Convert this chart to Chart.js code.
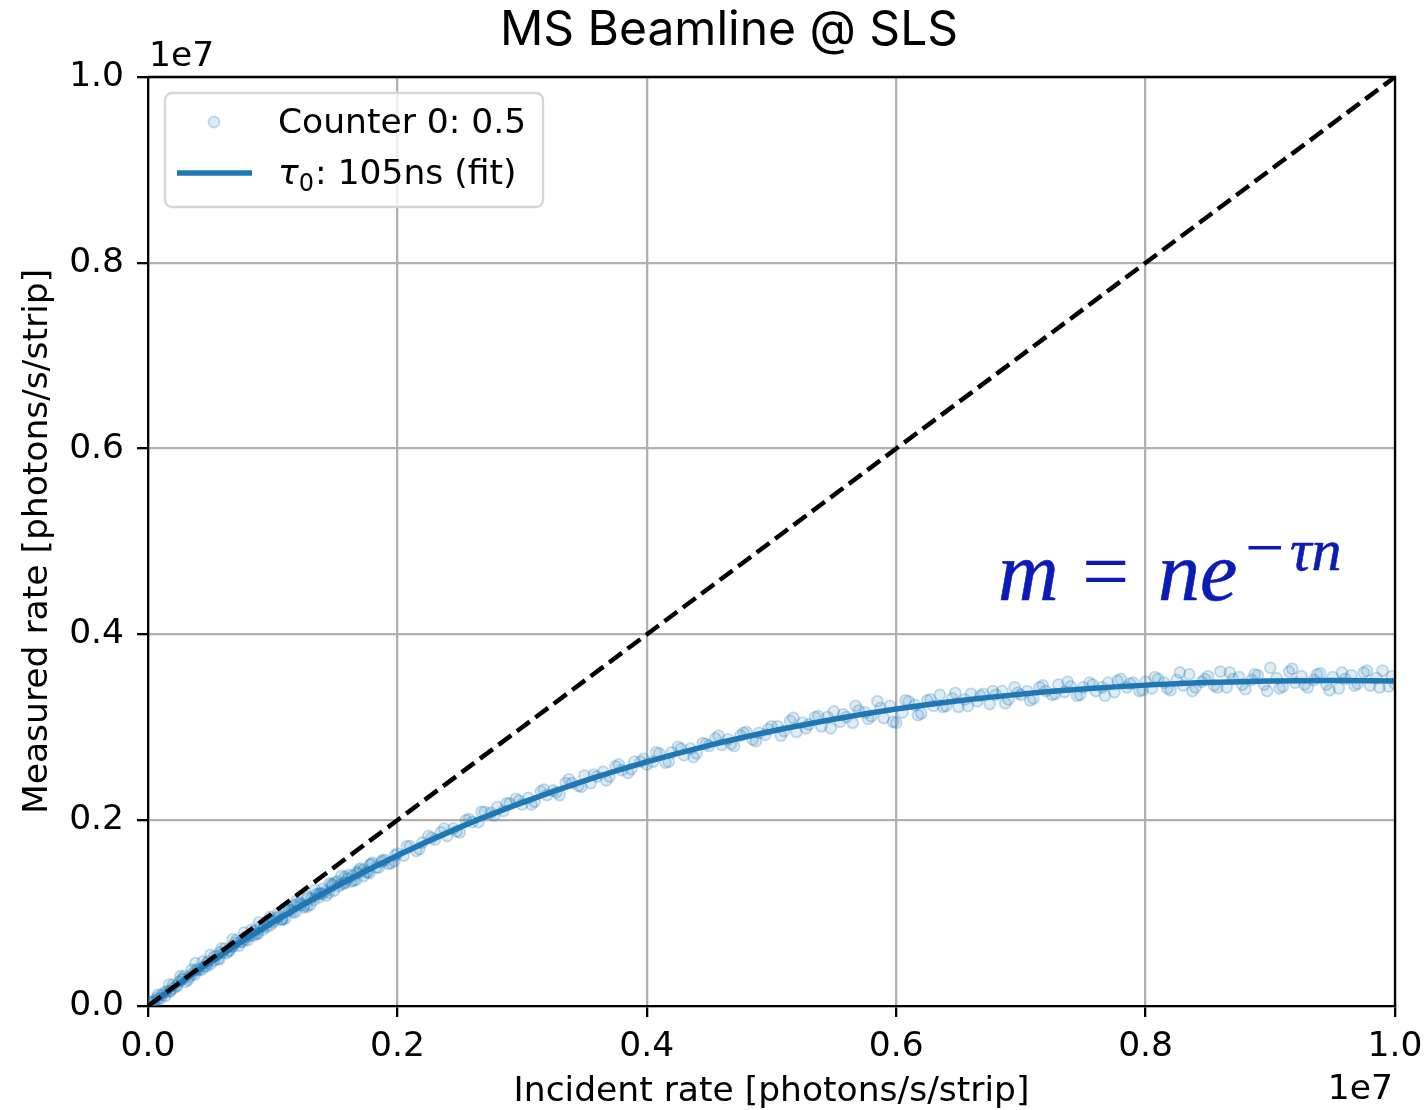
<!DOCTYPE html>
<html>
<head>
<meta charset="utf-8">
<script src="https://cdn.jsdelivr.net/npm/chart.js@4.4.1/dist/chart.umd.min.js"></script>
<style>
  html, body { margin: 0; padding: 0; background: #fff; }
  #rateChart { display: block; }
</style>
</head>
<body>
<canvas id="rateChart" width="1427" height="1110"></canvas>
<script>
// counter 0 rates, in units of 1e6 photons/s/strip (four scans)
var incidentRate = [
  0.05, 0.10, 0.15, 0.20, 0.25, 0.30, 0.35, 0.40, 0.45, 0.50, 0.55, 0.60, 0.65, 0.70, 0.75, 0.80, 0.85, 0.90, 0.95, 1.00,
  1.05, 1.10, 1.15, 1.20, 1.25, 1.30, 1.35, 1.40, 1.45, 1.50, 1.55, 1.60, 1.65, 1.70, 1.75, 1.80, 1.85, 1.90, 1.95, 2.00,
  2.05, 2.10, 2.15, 2.20, 2.25, 2.30, 2.35, 2.40, 2.45, 2.50, 2.55, 2.60, 2.65, 2.70, 2.75, 2.80, 2.85, 2.90, 2.95, 3.00,
  3.05, 3.10, 3.15, 3.20, 3.25, 3.30, 3.35, 3.40, 3.45, 3.50, 3.55, 3.60, 3.65, 3.70, 3.75, 3.80, 3.85, 3.90, 3.95, 4.00,
  4.05, 4.10, 4.15, 4.20, 4.25, 4.30, 4.35, 4.40, 4.45, 4.50, 4.55, 4.60, 4.65, 4.70, 4.75, 4.80, 4.85, 4.90, 4.95, 5.00,
  5.05, 5.10, 5.15, 5.20, 5.25, 5.30, 5.35, 5.40, 5.45, 5.50, 5.55, 5.60, 5.65, 5.70, 5.75, 5.80, 5.85, 5.90, 5.95, 6.00,
  6.05, 6.10, 6.15, 6.20, 6.25, 6.30, 6.35, 6.40, 6.45, 6.50, 6.55, 6.60, 6.65, 6.70, 6.75, 6.80, 6.85, 6.90, 6.95, 7.00,
  7.05, 7.10, 7.15, 7.20, 7.25, 7.30, 7.35, 7.40, 7.45, 7.50, 7.55, 7.60, 7.65, 7.70, 7.75, 7.80, 7.85, 7.90, 7.95, 8.00,
  8.05, 8.10, 8.15, 8.20, 8.25, 8.30, 8.35, 8.40, 8.45, 8.50, 8.55, 8.60, 8.65, 8.70, 8.75, 8.80, 8.85, 8.90, 8.95, 9.00,
  9.05, 9.10, 9.15, 9.20, 9.25, 9.30, 9.35, 9.40, 9.45, 9.50, 9.55, 9.60, 9.65, 9.70, 9.75, 9.80, 9.85, 9.90, 9.95, 10.00,

  0.075, 0.175, 0.275, 0.375, 0.475, 0.575, 0.675, 0.775, 0.875, 0.975,
  1.075, 1.175, 1.275, 1.375, 1.475, 1.575, 1.675, 1.775, 1.875, 1.975,
  2.075, 2.175, 2.275, 2.375, 2.475, 2.575, 2.675, 2.775, 2.875, 2.975,
  3.075, 3.175, 3.275, 3.375, 3.475, 3.575, 3.675, 3.775, 3.875, 3.975,
  4.075, 4.175, 4.275, 4.375, 4.475, 4.575, 4.675, 4.775, 4.875, 4.975,
  5.075, 5.175, 5.275, 5.375, 5.475, 5.575, 5.675, 5.775, 5.875, 5.975,
  6.075, 6.175, 6.275, 6.375, 6.475, 6.575, 6.675, 6.775, 6.875, 6.975,
  7.075, 7.175, 7.275, 7.375, 7.475, 7.575, 7.675, 7.775, 7.875, 7.975,
  8.075, 8.175, 8.275, 8.375, 8.475, 8.575, 8.675, 8.775, 8.875, 8.975,
  9.075, 9.175, 9.275, 9.375, 9.475, 9.575, 9.675, 9.775, 9.875, 9.975,

  0.03, 0.08, 0.13, 0.18, 0.23, 0.28, 0.33, 0.38, 0.43, 0.48, 0.53, 0.58, 0.63, 0.68, 0.73, 0.78, 0.83, 0.88, 0.93, 0.98,
  1.03, 1.08, 1.13, 1.18, 1.23, 1.28, 1.33, 1.38, 1.43, 1.48, 1.53, 1.58, 1.63, 1.68, 1.73, 1.78, 1.83, 1.88, 1.93, 1.98,

  0.02, 0.05, 0.08, 0.11, 0.14, 0.17, 0.20, 0.23, 0.26, 0.29, 0.32, 0.35, 0.38, 0.41, 0.44, 0.47, 0.50, 0.53, 0.56, 0.59,
  0.62, 0.65, 0.68, 0.71, 0.74, 0.77, 0.80, 0.83, 0.86, 0.89, 0.92, 0.95, 0.98, 1.01, 1.04, 1.07, 1.10, 1.13, 1.16, 1.19,
  1.22, 1.25, 1.28, 1.31, 1.34, 1.37, 1.40, 1.43, 1.46, 1.49, 1.52, 1.55, 1.58, 1.61, 1.64, 1.67, 1.70, 1.73, 1.76, 1.79
];
var measuredRate = [
  0.06, 0.08, 0.16, 0.19, 0.26, 0.26, 0.34, 0.40, 0.42, 0.45, 0.54, 0.57, 0.59, 0.68, 0.69, 0.75, 0.76, 0.85, 0.85, 0.90,
  0.96, 0.94, 1.03, 1.10, 1.08, 1.09, 1.20, 1.21, 1.22, 1.33, 1.31, 1.37, 1.35, 1.46, 1.44, 1.54, 1.49, 1.57, 1.54, 1.64,
  1.62, 1.72, 1.67, 1.76, 1.83, 1.79, 1.87, 1.83, 1.91, 1.87, 2.00, 1.98, 1.98, 2.09, 2.08, 2.14, 2.10, 2.18, 2.23, 2.17,
  2.24, 2.20, 2.31, 2.27, 2.32, 2.27, 2.40, 2.40, 2.37, 2.48, 2.40, 2.47, 2.52, 2.47, 2.58, 2.54, 2.51, 2.63, 2.63, 2.60,
  2.63, 2.72, 2.62, 2.73, 2.79, 2.70, 2.77, 2.72, 2.83, 2.80, 2.88, 2.81, 2.87, 2.80, 2.91, 2.95, 2.87, 2.94, 2.92, 3.01,
  3.01, 2.96, 3.07, 2.95, 3.05, 3.03, 3.11, 3.01, 3.11, 3.17, 3.06, 3.11, 3.05, 3.18, 3.16, 3.12, 3.28, 3.10, 3.23, 3.05,
  3.16, 3.28, 3.24, 3.15, 3.29, 3.23, 3.35, 3.23, 3.31, 3.22, 3.30, 3.36, 3.28, 3.36, 3.25, 3.35, 3.39, 3.30, 3.43, 3.35,
  3.39, 3.31, 3.43, 3.39, 3.35, 3.46, 3.38, 3.44, 3.34, 3.43, 3.48, 3.39, 3.43, 3.48, 3.38, 3.52, 3.43, 3.48, 3.39, 3.49,
  3.42, 3.52, 3.48, 3.40, 3.51, 3.45, 3.57, 3.43, 3.49, 3.55, 3.45, 3.60, 3.43, 3.52, 3.54, 3.41, 3.51, 3.56, 3.46, 3.64,
  3.53, 3.44, 3.60, 3.48, 3.55, 3.43, 3.51, 3.58, 3.46, 3.54, 3.42, 3.52, 3.56, 3.47, 3.59, 3.45, 3.53, 3.61, 3.44, 3.47,

  0.09, 0.16, 0.29, 0.34, 0.46, 0.51, 0.64, 0.71, 0.78, 0.91,
  0.93, 1.08, 1.07, 1.21, 1.31, 1.32, 1.44, 1.43, 1.55, 1.56,
  1.72, 1.69, 1.81, 1.91, 1.88, 2.01, 2.09, 2.05, 2.18, 2.21,
  2.17, 2.33, 2.30, 2.44, 2.36, 2.49, 2.43, 2.60, 2.55, 2.66,
  2.73, 2.63, 2.77, 2.68, 2.82, 2.91, 2.82, 2.94, 2.85, 2.98,
  2.91, 3.10, 2.99, 3.12, 2.99, 3.14, 3.23, 3.09, 3.21, 3.06,
  3.29, 3.13, 3.30, 3.22, 3.37, 3.23, 3.34, 3.39, 3.26, 3.37,
  3.29, 3.45, 3.36, 3.49, 3.35, 3.46, 3.34, 3.50, 3.47, 3.40,
  3.54, 3.42, 3.59, 3.39, 3.52, 3.43, 3.59, 3.46, 3.57, 3.39,
  3.42, 3.63, 3.46, 3.57, 3.40, 3.59, 3.45, 3.61, 3.43, 3.55,

  0.04, 0.07, 0.14, 0.16, 0.22, 0.29, 0.31, 0.38, 0.39, 0.48, 0.49, 0.58, 0.57, 0.64, 0.65, 0.74, 0.76, 0.78, 0.86, 0.87,
  0.95, 0.94, 1.04, 1.01, 1.09, 1.16, 1.14, 1.21, 1.19, 1.30, 1.29, 1.39, 1.34, 1.43, 1.40, 1.52, 1.49, 1.57, 1.53, 1.62,

  0.04, 0.04, 0.12, 0.12, 0.11, 0.23, 0.23, 0.21, 0.32, 0.32, 0.28, 0.39, 0.46, 0.39, 0.48, 0.43, 0.55, 0.53, 0.50, 0.62,
  0.62, 0.60, 0.72, 0.71, 0.69, 0.79, 0.71, 0.82, 0.81, 0.90, 0.82, 0.91, 0.96, 0.92, 0.99, 0.93, 1.05, 1.03, 1.01, 1.13,
  1.11, 1.06, 1.18, 1.16, 1.25, 1.17, 1.26, 1.24, 1.32, 1.24, 1.34, 1.40, 1.33, 1.41, 1.40, 1.36, 1.48, 1.47, 1.44, 1.53
];

// dead-time fit m = n*exp(-tau*n), tau0 = 105 ns, same units
var fitIncident = [0, 0.5, 1.0, 1.5, 2.0, 2.5, 3.0, 3.5, 4.0, 4.5, 5.0, 5.5, 6.0, 6.5, 7.0, 7.5, 8.0, 8.5, 9.0, 9.5, 10.0];
var fitMeasured = [0, 0.474, 0.900, 1.281, 1.621, 1.923, 2.189, 2.424, 2.628, 2.806, 2.958, 3.087, 3.196, 3.285, 3.357, 3.412, 3.454, 3.482, 3.498, 3.504, 3.499];

// ideal detector, m = n
var idealRate = [0, 10];

var tickValues = [0, 0.2, 0.4, 0.6, 0.8, 1.0]; // x 1e7
var UNIT = 1e6;

var BLUE = '#1f77b4';
var tickFont = { family: 'DejaVu Sans', size: 34.5, lineHeight: 1.2 };

function toPoints(xs, ys) {
  return xs.map(function (x, i) { return { x: x * UNIT, y: ys[i] * UNIT }; });
}

function setTicks(scale) {
  scale.ticks = tickValues.map(function (v) { return { value: v * 1e7 }; });
}

// title, top/right spines, offset text, legend and the model equation
var decorations = {
  id: 'decorations',
  afterDraw: function (chart) {
    var c = chart.ctx, a = chart.chartArea;
    c.save();

    c.strokeStyle = '#000';
    c.lineWidth = 2.3;
    c.beginPath();
    c.moveTo(a.left, a.top);
    c.lineTo(a.right, a.top);
    c.lineTo(a.right, a.bottom);
    c.stroke();

    c.fillStyle = '#000';
    c.textBaseline = 'alphabetic';
    c.font = '48px Inter';
    c.textAlign = 'center';
    c.fillText('MS Beamline @ SLS', 729, 45);

    c.font = '34.5px "DejaVu Sans"';
    c.textAlign = 'left';
    c.fillText('1e7', a.left + 1, 66);
    c.textAlign = 'right';
    c.fillText('1e7', a.right - 2, 1099);

    // legend
    c.beginPath();
    c.roundRect(165, 93, 378, 114, 7);
    c.fillStyle = 'rgba(255,255,255,0.8)';
    c.fill();
    c.strokeStyle = '#d5d5d5';
    c.lineWidth = 2.3;
    c.stroke();

    c.beginPath();
    c.arc(214, 122, 5.5, 0, Math.PI * 2);
    c.fillStyle = 'rgba(31,119,180,0.14)';
    c.fill();
    c.strokeStyle = 'rgba(31,119,180,0.26)';
    c.lineWidth = 1.8;
    c.stroke();

    c.beginPath();
    c.moveTo(177, 173);
    c.lineTo(252, 173);
    c.strokeStyle = BLUE;
    c.lineWidth = 5.5;
    c.stroke();

    c.fillStyle = '#000';
    c.textAlign = 'left';
    c.font = '34.5px "DejaVu Sans"';
    c.fillText('Counter 0: 0.5', 278, 133);
    c.font = 'italic 34.5px "DejaVu Sans"';
    c.fillText('\u03c4', 278, 184);
    var tw = c.measureText('\u03c4').width;
    c.font = '24px "DejaVu Sans"';
    c.fillText('0', 278 + tw, 191);
    var sw = c.measureText('0').width;
    c.font = '34.5px "DejaVu Sans"';
    c.fillText(': 105ns (fit)', 278 + tw + sw + 1, 184);

    // model equation
    c.fillStyle = '#0b1bb5';
    c.strokeStyle = '#0b1bb5';
    c.lineWidth = 0.6;
    c.font = 'italic 84px "Liberation Serif"';
    c.fillText('m', 998, 600);
    c.strokeText('m', 998, 600);
    c.fillText('ne', 1158, 600);
    c.strokeText('ne', 1158, 600);
    c.font = '84px "Liberation Serif"';
    c.fillText('=', 1082, 600);
    c.font = '70px "Liberation Serif"';
    c.fillText('\u2212', 1245, 571);
    c.font = 'italic 60px "Liberation Serif"';
    c.fillText('\u03c4n', 1290, 570);
    c.strokeText('\u03c4n', 1290, 570);

    c.restore();
  }
};

var ctx = document.getElementById('rateChart').getContext('2d');
var rateChart = new Chart(ctx, {
  type: 'scatter',
  data: {
    datasets: [
      {
        label: 'ideal',
        data: toPoints(idealRate, idealRate),
        showLine: true,
        borderColor: '#000',
        borderWidth: 4.5,
        borderDash: [16, 7],
        pointRadius: 0,
        order: 1
      },
      {
        label: '\u03c40: 105ns (fit)',
        data: toPoints(fitIncident, fitMeasured),
        showLine: true,
        borderColor: BLUE,
        borderWidth: 5.5,
        cubicInterpolationMode: 'monotone',
        pointRadius: 0,
        order: 2
      },
      {
        label: 'Counter 0: 0.5',
        data: toPoints(incidentRate, measuredRate),
        pointRadius: 5.5,
        pointBackgroundColor: 'rgba(31,119,180,0.14)',
        pointBorderColor: 'rgba(31,119,180,0.26)',
        pointBorderWidth: 1.8,
        order: 3
      }
    ]
  },
  options: {
    responsive: false,
    animation: false,
    devicePixelRatio: 1,
    layout: { padding: { top: 77, right: 32, left: 0, bottom: 0 } },
    plugins: {
      legend: { display: false },
      title: { display: false },
      tooltip: { enabled: false }
    },
    scales: {
      x: {
        type: 'linear',
        min: 0,
        max: 1e7,
        afterBuildTicks: setTicks,
        afterFit: function (s) {
          s.height = 104;
          s.paddingLeft = 0;
          s.paddingRight = 0;
        },
        ticks: {
          font: tickFont,
          color: '#000',
          padding: 9,
          maxRotation: 0,
          callback: function (v) { return (v / 1e7).toFixed(1); }
        },
        grid: { color: '#b0b0b0', lineWidth: 2.3, tickLength: 11, tickColor: '#000', tickWidth: 2.3 },
        border: { color: '#000', width: 2.3 },
        title: {
          display: true,
          text: 'Incident rate [photons/s/strip]',
          font: tickFont,
          color: '#000',
          padding: { top: 0, bottom: -3 }
        }
      },
      y: {
        type: 'linear',
        min: 0,
        max: 1e7,
        afterBuildTicks: setTicks,
        afterFit: function (s) {
          s.width = 148;
          s.paddingTop = 0;
          s.paddingBottom = 0;
        },
        ticks: {
          font: tickFont,
          color: '#000',
          padding: 13,
          callback: function (v) { return (v / 1e7).toFixed(1); }
        },
        grid: { color: '#b0b0b0', lineWidth: 2.3, tickLength: 11, tickColor: '#000', tickWidth: 2.3 },
        border: { color: '#000', width: 2.3 },
        title: {
          display: true,
          text: 'Measured rate [photons/s/strip]',
          font: tickFont,
          color: '#000',
          padding: { top: 17, bottom: 0 }
        }
      }
    }
  },
  plugins: [decorations]
});
</script>
</body>
</html>
